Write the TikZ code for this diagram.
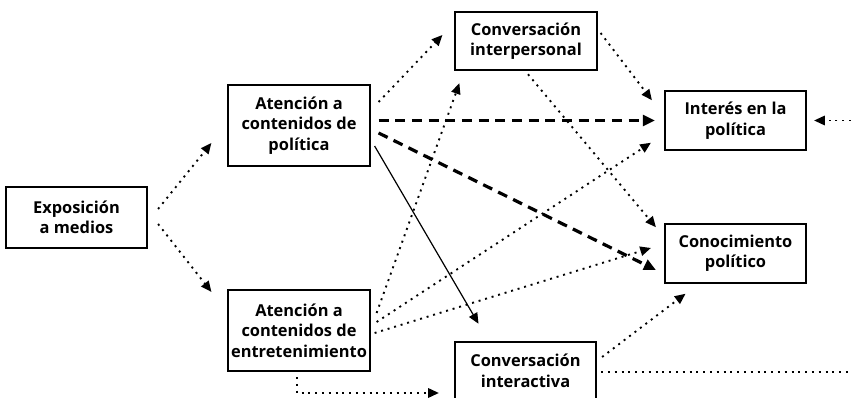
\documentclass[tikz,border=0pt]{standalone}
\usepackage{fontspec}
\setmainfont{Open Sans}
\usetikzlibrary{arrows.meta,calc}

\tikzset{every picture/.style={line width=0.75pt}}
\tikzset{
  caja/.style={draw, line width=1.4pt, align=center, inner sep=0pt,
    font=\bfseries\fontsize{12.3}{15.3}\selectfont, minimum width=106pt},
  dos/.style={caja, minimum height=44pt},
  tres/.style={caja, minimum height=61pt},
  punta/.style={-{Triangle[length=8pt,width=7pt]}},
  punteado/.style={punta, line width=1.4pt, dash pattern=on 1.5pt off 3.6pt},
  rayado/.style={-{Triangle[length=9pt,width=8pt]}, line width=2.4pt, dash pattern=on 7.5pt off 5pt},
  lleno/.style={punta, line width=0.9pt},
}

\begin{document}
\begin{tikzpicture}[x=0.75pt,y=0.75pt,yscale=-1,xscale=1]
	\useasboundingbox (0,0) rectangle (851,398);

	%Shape: Rectangle
	\node[dos, minimum height=46pt] (expo) at (76.5,217.5) {Exposición\\a medios};
	\node[tres] (pol) at (299,125.5) {Atención a\\contenidos de\\política};
	\node[tres] (ent) at (299,330.5) {Atención a\\contenidos de\\entretenimiento};
	\node[dos] (inter) at (526,41) {Conversación\\interpersonal};
	\node[dos] (interes) at (735.5,120.5) {Interés en la\\política};
	\node[dos] (conoc) at (735.5,253.5) {Conocimiento\\político};
	\node[dos] (interac) at (525.5,371) {Conversación\\interactiva};

	%free ends at the right edge
	\coordinate (bordeA) at (851,120.5);
	\coordinate (bordeB) at (851,372);

	%Straight Lines: exposicion
	\draw[punteado] ($(expo.east)+(10,-8.5)$) -- ($(pol.west)+(-16,17.5)$);
	\draw[punteado] ($(expo.east)+(10,6.5)$) -- ($(ent.north west)+(-16,3)$);

	%Straight Lines: politica
	\draw[punteado] ($(pol.east)+(8,-23.5)$) -- ($(inter.west)+(-12,-6)$);
	\draw[rayado] ($(pol.east)+(8,-5)$) -- ($(interes.west)+(-9,0)$);
	\draw[rayado] ($(pol.east)+(8,7.5)$) -- ($(conoc.west)+(-8,16.5)$);
	\draw[lleno] ($(pol.east)+(4,20.5)$) -- ($(interac.north)+(-47,-17)$);

	%Straight Lines: entretenimiento
	\draw[punteado] ($(ent.east)+(6,-17.5)$) -- ($(inter.south west)+(5,12)$);
	\draw[punteado] ($(ent.east)+(6,-8.5)$) -- ($(interes.south west)+(-13,-8)$);
	\draw[punteado] ($(ent.east)+(4,2.5)$) -- ($(conoc.west)+(-13,-5.5)$);
	\draw[punteado] ($(ent.south)+(-2,5)$) |- ($(interac.west)+(-15,22)$);

	%Straight Lines: conversacion
	\draw[punteado] ($(inter.east)+(3,-8)$) -- ($(interes.north west)+(-12,10)$);
	\draw[punteado] ($(inter.south)+(2,3)$) -- ($(conoc.north west)+(-8,4)$);
	\draw[punteado] ($(interac.east)+(5,-14)$) -- ($(conoc.south)+(-50,10)$);
	\draw[punteado, -] ($(interac.east)+(4,1)$) -- (bordeB);
	\draw[punteado] (bordeA) -- ($(interes.east)+(7,0)$);

\end{tikzpicture}
\end{document}
